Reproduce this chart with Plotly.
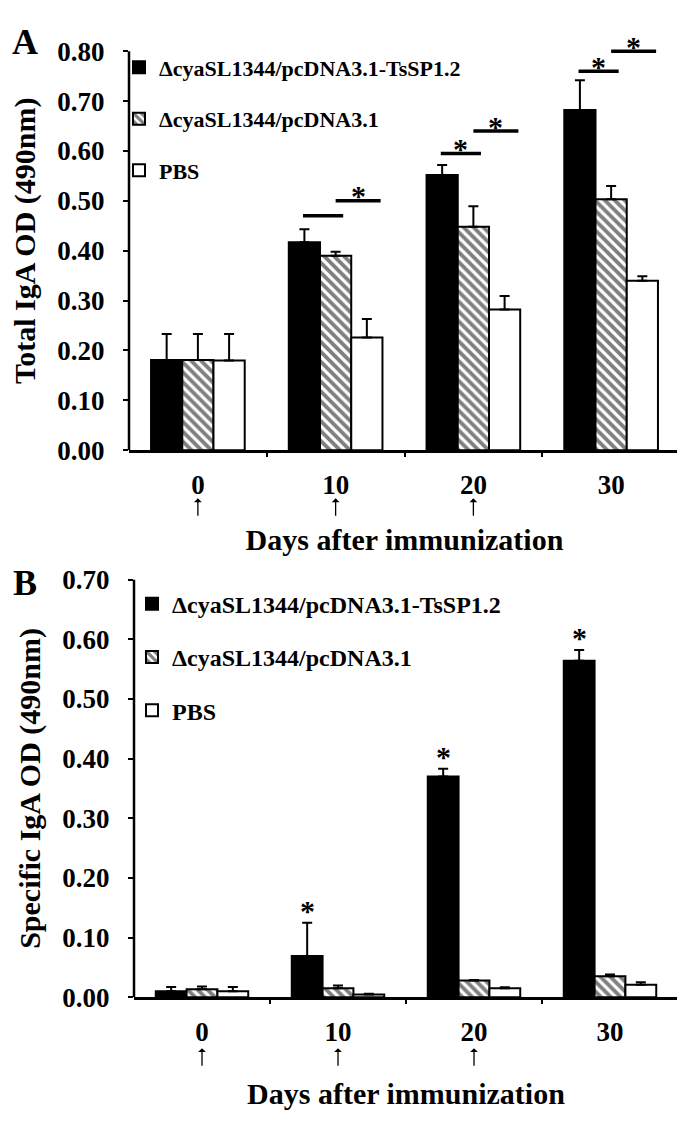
import plotly.graph_objects as go

# ---------------- data ----------------
days = ["0", "10", "20", "30"]
immunization_days = ["0", "10", "20"]
groups = ["ΔcyaSL1344/pcDNA3.1-TsSP1.2", "ΔcyaSL1344/pcDNA3.1", "PBS"]

# Panel A: total IgA
total_tssp = [0.181, 0.417, 0.552, 0.682]
total_tssp_err = [0.052, 0.026, 0.020, 0.060]
total_vector = [0.181, 0.390, 0.448, 0.503]
total_vector_err = [0.052, 0.008, 0.041, 0.027]
total_pbs = [0.180, 0.226, 0.282, 0.340]
total_pbs_err = [0.053, 0.037, 0.027, 0.009]

# significance brackets (panel A)
bracket_days = ["10", "20", "30"]
bracket_left_y = [0.47, 0.595, 0.76]     # TsSP1.2 vs vector
bracket_left_star = [False, True, True]
bracket_right_y = [0.50, 0.64, 0.80]     # vector vs PBS
bracket_right_star = [True, True, True]

# Panel B: specific IgA
spec_tssp = [0.010, 0.069, 0.370, 0.564]
spec_tssp_err = [0.007, 0.056, 0.013, 0.018]
spec_vector = [0.0135, 0.015, 0.028, 0.035]
spec_vector_err = [0.0045, 0.0045, 0.001, 0.003]
spec_pbs = [0.010, 0.0045, 0.015, 0.021]
spec_pbs_err = [0.007, 0.0015, 0.0015, 0.004]
spec_star_days = ["10", "20", "30"]

yticks_a = [0.0, 0.1, 0.2, 0.3, 0.4, 0.5, 0.6, 0.7, 0.8]
yticks_b = [0.0, 0.1, 0.2, 0.3, 0.4, 0.5, 0.6, 0.7]

# ---------------- style ----------------
FONT = "Liberation Serif, Times New Roman, serif"
W, H = 685, 1121
BARGAP = 0.32
slot = (1 - BARGAP) / 3
xi = list(range(len(days)))


def px_x(p):
    return p / W


def px_y(p):
    return 1 - p / H


styles = [
    dict(color="black", pattern=None),
    dict(color="white", pattern=dict(shape="\\", fgcolor="black", bgcolor="white", size=7, solidity=0.55)),
    dict(color="white", pattern=None),
]

fig = go.Figure()


def add_bars(vals_list, errs_list, xa, ya, legend):
    for k, (vals, errs) in enumerate(zip(vals_list, errs_list)):
        st = styles[k]
        marker = dict(color=st["color"], line=dict(color="black", width=2))
        if st["pattern"]:
            marker["pattern"] = st["pattern"]
        fig.add_trace(go.Bar(
            x=xi, y=vals, name=groups[k], marker=marker,
            xaxis=xa, yaxis=ya, legend=legend, legendgroup=legend + str(k),
            error_y=dict(type="data", array=errs, arrayminus=[0] * len(errs), symmetric=False,
                         color="black", thickness=2, width=5),
        ))


add_bars([total_tssp, total_vector, total_pbs],
         [total_tssp_err, total_vector_err, total_pbs_err], "x", "y", "legend")
add_bars([spec_tssp, spec_vector, spec_pbs],
         [spec_tssp_err, spec_vector_err, spec_pbs_err], "x2", "y2", "legend2")

# geometry
A_left, A_right, A_zero, A_scale = 121, 672, 439, 512.5
B_left, B_right, B_zero, B_scale = 126, 670, 1001, 613.0
A_top_val, B_top_val = 0.84, 0.70

axis_common = dict(showgrid=False, zeroline=False, linecolor="black", linewidth=2.5,
                   tickcolor="black", tickwidth=2)
tickfont = dict(family=FONT, size=27, color="black", weight="bold")
titlefont = dict(family=FONT, size=30, color="black", weight="bold")

for name, left, right, zero, scale, topv, yticks, ytitle, anchor, xstand, arrow_tip in [
    ("", A_left, A_right, A_zero, A_scale, A_top_val, yticks_a, "Total IgA OD (490nm)", "y", 30, 48),
    ("2", B_left, B_right, B_zero, B_scale, B_top_val, yticks_b, "Specific IgA OD (490nm)", "y2", 37, 51),
]:
    top_px = zero - topv * scale
    fig.layout["xaxis" + name] = dict(
        axis_common, domain=[px_x(left), px_x(right)], range=[-0.5, len(days) - 0.5],
        anchor=anchor, tickmode="array", tickvals=xi, ticktext=days, showline=True,
        ticks="outside", ticklen=0, tickfont=tickfont, ticklabelstandoff=9,
        minor=dict(tickmode="array", tickvals=[i + 0.5 for i in xi[:-1]], ticks="outside",
                   ticklen=4, tickwidth=2, tickcolor="black"),
        title=dict(text="Days after immunization", font=titlefont, standoff=xstand),
    )
    fig.layout["yaxis" + name] = dict(
        axis_common, domain=[px_y(zero), px_y(top_px)], range=[0, topv],
        anchor="x" + name, tickmode="array", tickvals=yticks, tickformat=".2f",
        showline=False, ticks="outside", ticklen=5, tickfont=tickfont, ticklabelstandoff=13,
        title=dict(text=ytitle, font=titlefont, standoff=12),
    )
    # y axis line only up to the last tick
    fig.add_shape(type="line", xref="paper", yref="y" + name, x0=px_x(left), x1=px_x(left),
                  y0=yticks[0], y1=yticks[-1], line=dict(color="black", width=2.5))
    # immunization arrows (pointing up, below the day labels)
    for d in immunization_days:
        fig.add_annotation(x=days.index(d), xref="x" + name, y=0, yref="y" + name + " domain",
                           yshift=-arrow_tip, text="", showarrow=True, ax=0, ay=19,
                           arrowhead=1, arrowsize=1.0, arrowwidth=1.3, arrowcolor="black")

# significance brackets on panel A
star_font = dict(family=FONT, size=30, color="black", weight="bold")
for d, yl, sl, yr, sr in zip(bracket_days, bracket_left_y, bracket_left_star,
                             bracket_right_y, bracket_right_star):
    c = days.index(d)
    for y, s, x0, x1 in [(yl, sl, c - slot - 0.01, c + 0.055), (yr, sr, c, c + slot + 0.10)]:
        fig.add_shape(type="line", xref="x", yref="y", x0=x0, x1=x1, y0=y, y1=y,
                      line=dict(color="black", width=3.5))
        if s:
            fig.add_annotation(x=(x0 + x1) / 2, y=y, xref="x", yref="y", text="*",
                               showarrow=False, yanchor="middle", yshift=5, font=star_font)

# stars on panel B
for d in spec_star_days:
    c = days.index(d)
    fig.add_annotation(x=c - slot, y=spec_tssp[c] + spec_tssp_err[c], xref="x2", yref="y2",
                       text="*", showarrow=False, yanchor="middle", yshift=12, font=star_font)

# panel letters
for letter, x, y in [("A", 17, 20), ("B", 17, 575)]:
    fig.add_annotation(x=px_x(x), y=px_y(y), xref="paper", yref="paper", text=letter,
                       showarrow=False, xanchor="center", yanchor="middle",
                       font=dict(family=FONT, size=36, color="black", weight="bold"))

fig.update_layout(
    width=W, height=H, margin=dict(l=0, r=0, t=0, b=0),
    barmode="group", bargap=BARGAP, bargroupgap=0,
    plot_bgcolor="white", paper_bgcolor="white",
    font=dict(family=FONT, color="black"),
    legend=dict(x=px_x(111), y=px_y(24), xanchor="left", yanchor="top",
                traceorder="grouped", tracegroupgap=20, bgcolor="rgba(0,0,0,0)",
                font=dict(family=FONT, size=22, color="black", weight="bold")),
    legend2=dict(x=px_x(124), y=px_y(574), xanchor="left", yanchor="top",
                 traceorder="grouped", tracegroupgap=19, bgcolor="rgba(0,0,0,0)",
                 font=dict(family=FONT, size=24, color="black", weight="bold")),
    showlegend=True,
)

fig.write_html("out.html")
